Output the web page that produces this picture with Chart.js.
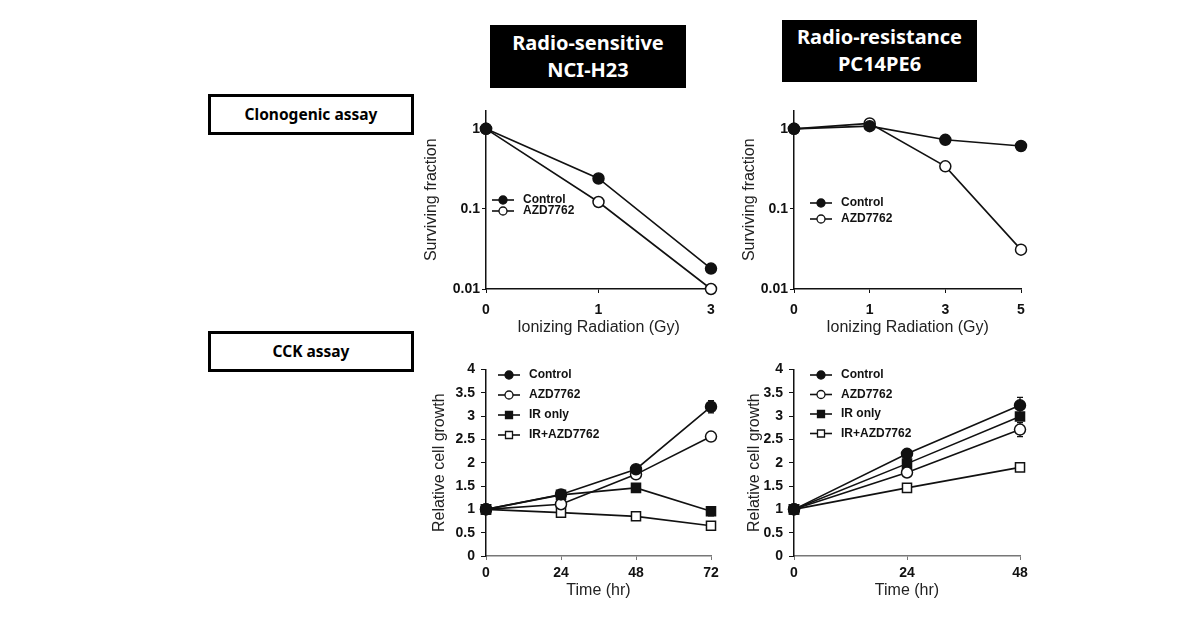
<!DOCTYPE html>
<html>
<head>
<meta charset="utf-8">
<script src="https://cdn.jsdelivr.net/npm/chart.js@4/dist/chart.umd.min.js"></script>
<style>
  body { margin: 0; background: #fff; width: 1190px; height: 644px; position: relative; overflow: hidden; }
  canvas { position: absolute; }
  .head { position: absolute; background: #000; color: #fff; font-family: "Noto Sans", sans-serif; font-weight: bold;
          font-size: 20px; line-height: 27px; text-align: center; box-sizing: border-box; padding-top: 4px; }
  .assay { position: absolute; border: 3px solid #000; box-sizing: border-box; font-family: "Noto Sans", sans-serif;
           font-weight: bold; font-size: 15.5px; text-align: center; color: #000; }
</style>
</head>
<body>
<div class="head" style="left:490px;top:25px;width:196px;height:63px;">Radio-sensitive<br>NCI-H23</div>
<div class="head" style="left:782px;top:20px;width:195px;height:62px;padding-top:3px;">Radio-resistance<br>PC14PE6</div>
<div class="assay" style="left:208px;top:94px;width:206px;height:41px;line-height:35px;">Clonogenic assay</div>
<div class="assay" style="left:208px;top:331px;width:206px;height:41px;line-height:35px;">CCK assay</div>

<canvas id="clonoS" width="303" height="237" style="left:422px;top:100px;"></canvas>
<canvas id="clonoR" width="295" height="237" style="left:740px;top:100px;"></canvas>
<canvas id="cckS" width="295" height="245" style="left:430px;top:355px;"></canvas>
<canvas id="cckR" width="290" height="245" style="left:745px;top:355px;"></canvas>

<script>
// clonogenic assay (surviving fraction, log scale)
const doseSens = ['0', '1', '3'];
const survControlSens = [1, 0.24, 0.018];
const survAzdSens = [1, 0.122, 0.01];

const doseRes = ['0', '1', '3', '5'];
const survControlRes = [1, 1.08, 0.73, 0.61];
const survAzdRes = [1, 1.17, 0.34, 0.031];

const survTicks = [0.01, 0.1, 1];

// CCK assay (relative cell growth)
const timeSens = [0, 24, 48, 72];
const growControlSens = [1, 1.32, 1.86, 3.2];
const growAzdSens = [1, 1.11, 1.75, 2.56];
const growIrSens = [1, 1.31, 1.46, 0.96];
const growIrAzdSens = [1, 0.93, 0.85, 0.65];
const errControlSens = [0.05, 0.09, 0.05, 0.13];
const errAzdSens = [0.04, 0.05, 0.06, 0.1];
const errIrSens = [0.06, 0.06, 0.09, 0.1];
const errIrAzdSens = [0.03, 0.03, 0.03, 0.04];

const timeRes = [0, 24, 48];
const growControlRes = [1, 2.19, 3.23];
const growAzdRes = [1, 1.79, 2.71];
const growIrRes = [1, 1.98, 2.99];
const growIrAzdRes = [1, 1.46, 1.9];
const errControlRes = [0.03, 0.07, 0.17];
const errAzdRes = [0.03, 0.06, 0.15];
const errIrRes = [0.03, 0.05, 0.05];
const errIrAzdRes = [0.02, 0.04, 0.05];

const seriesNames = ['Control', 'AZD7762', 'IR only', 'IR+AZD7762'];

const INK = '#111';
const tickFont = { family: 'Liberation Sans, Arial, sans-serif', size: 14, weight: 'bold' };
const titleFont = { family: 'Liberation Sans, Arial, sans-serif', size: 16 };

// marker look per series
const markers = [
    { pointStyle: 'circle', fill: INK, radius: 5.5 },
    { pointStyle: 'circle', fill: '#fff', radius: 5.5 },
    { pointStyle: 'rect', fill: INK, radius: 6.4 },
    { pointStyle: 'rect', fill: '#fff', radius: 6.4 }
];

function makeDataset(idx, values, xs, errs) {
    const m = markers[idx];
    return {
        label: seriesNames[idx],
        data: xs ? values.map((v, i) => ({ x: xs[i], y: v })) : values,
        errors: errs || null,
        borderColor: INK,
        borderWidth: 1.6,
        pointStyle: m.pointStyle,
        pointRadius: m.radius,
        pointBackgroundColor: m.fill,
        pointBorderColor: INK,
        pointBorderWidth: 1.5,
        tension: 0,
        clip: false
    };
}

// error bars, drawn under the markers
const errorBars = {
    id: 'errorBars',
    beforeDatasetsDraw(chart) {
        const ctx = chart.ctx;
        const ys = chart.scales.y;
        ctx.save();
        ctx.strokeStyle = INK;
        ctx.lineWidth = 1.2;
        chart.data.datasets.forEach((ds, di) => {
            if (!ds.errors) return;
            const meta = chart.getDatasetMeta(di);
            meta.data.forEach((pt, i) => {
                const v = ds.data[i].y;
                const e = ds.errors[i];
                const top = ys.getPixelForValue(v + e);
                const bot = ys.getPixelForValue(v - e);
                ctx.beginPath();
                ctx.moveTo(pt.x, top); ctx.lineTo(pt.x, bot);
                ctx.moveTo(pt.x - 3, top); ctx.lineTo(pt.x + 3, top);
                ctx.moveTo(pt.x - 3, bot); ctx.lineTo(pt.x + 3, bot);
                ctx.stroke();
            });
        });
        ctx.restore();
    }
};

// small legend inside the plot
const insideLegend = {
    id: 'insideLegend',
    afterDraw(chart, args, opts) {
        const ctx = chart.ctx;
        ctx.save();
        ctx.font = 'bold 12px Liberation Sans, Arial, sans-serif';
        ctx.textBaseline = 'middle';
        chart.data.datasets.forEach((ds, i) => {
            const y = opts.y + i * opts.gap;
            const x0 = opts.x, x1 = opts.x + 22, cx = (x0 + x1) / 2;
            ctx.strokeStyle = INK;
            ctx.lineWidth = 1.6;
            ctx.beginPath(); ctx.moveTo(x0, y); ctx.lineTo(x1, y); ctx.stroke();
            ctx.fillStyle = ds.pointBackgroundColor;
            ctx.lineWidth = 1.3;
            ctx.beginPath();
            if (ds.pointStyle === 'rect') ctx.rect(cx - 3.5, y - 3.5, 7, 7);
            else ctx.arc(cx, y, 4, 0, Math.PI * 2);
            ctx.fill(); ctx.stroke();
            ctx.fillStyle = INK;
            ctx.fillText(ds.label, x1 + 9, y);
        });
        ctx.restore();
    }
};

function axisBase() {
    return {
        border: { display: true, color: INK, width: 1.5 },
        grid: { display: true, drawOnChartArea: false, drawTicks: true, tickLength: 4, color: INK },
        ticks: { color: INK, font: tickFont, callback: (v) => String(v) },
        title: { display: true, color: '#222', font: titleFont, padding: { top: 0, bottom: 0 } }
    };
}

function clonoChart(id, labels, control, azd, yWidth, legendPos) {
    const y = axisBase();
    y.type = 'logarithmic';
    y.min = 0.01;
    y.max = 1.7;
    y.afterBuildTicks = (axis) => { axis.ticks = survTicks.map(v => ({ value: v })); };
    y.ticks.padding = 2;
    y.title.text = 'Surviving fraction';
    y.afterFit = (s) => { s.width = yWidth; };

    const x = axisBase();
    x.type = 'category';
    x.offset = false;
    x.grid.offset = false;
    x.ticks.callback = function (v) { return this.getLabelForValue(v); };
    x.ticks.padding = 9;
    x.title.text = 'Ionizing Radiation (Gy)';
    x.afterFit = (s) => { s.height = 48; };

    return new Chart(document.getElementById(id), {
        type: 'line',
        data: { labels: labels, datasets: [makeDataset(0, control), makeDataset(1, azd)] },
        options: {
            responsive: false, animation: false, devicePixelRatio: 1,
            layout: { padding: { top: 7, right: 14, left: 0, bottom: 0 } },
            scales: { x: x, y: y },
            plugins: { legend: { display: false }, tooltip: { enabled: false }, insideLegend: legendPos }
        },
        plugins: [insideLegend]
    });
}

function cckChart(id, times, series, errs, yWidth, padRight, legendPos) {
    const y = axisBase();
    y.type = 'linear';
    y.min = 0;
    y.max = 4;
    y.ticks.stepSize = 0.5;
    y.ticks.padding = 6;
    y.grid.tickLength = 5;
    y.title.text = 'Relative cell growth';
    y.afterFit = (s) => { s.width = yWidth; };

    const x = axisBase();
    x.type = 'linear';
    x.min = 0;
    x.max = times[times.length - 1];
    x.ticks.stepSize = 24;
    x.ticks.padding = 5;
    x.border.color = '#777';
    x.grid.color = '#777';
    x.title.text = 'Time (hr)';
    x.afterFit = (s) => { s.height = 44; };

    return new Chart(document.getElementById(id), {
        type: 'line',
        data: { datasets: series.map((vals, i) => makeDataset(i, vals, times, errs[i])) },
        options: {
            responsive: false, animation: false, devicePixelRatio: 1,
            layout: { padding: { top: 11, right: padRight, left: 0, bottom: 0 } },
            scales: { x: x, y: y },
            plugins: { legend: { display: false }, tooltip: { enabled: false }, insideLegend: legendPos }
        },
        plugins: [errorBars, insideLegend]
    });
}

clonoChart('clonoS', doseSens, survControlSens, survAzdSens, 64, { x: 70, y: 100, gap: 11 });
clonoChart('clonoR', doseRes, survControlRes, survAzdRes, 54, { x: 70, y: 103, gap: 16 });

cckChart('cckS', timeSens,
    [growControlSens, growAzdSens, growIrSens, growIrAzdSens],
    [errControlSens, errAzdSens, errIrSens, errIrAzdSens],
    56, 14, { x: 68, y: 20, gap: 20 });
cckChart('cckR', timeRes,
    [growControlRes, growAzdRes, growIrRes, growIrAzdRes],
    [errControlRes, errAzdRes, errIrRes, errIrAzdRes],
    49, 15, { x: 65, y: 20, gap: 19.5 });
</script>
</body>
</html>
